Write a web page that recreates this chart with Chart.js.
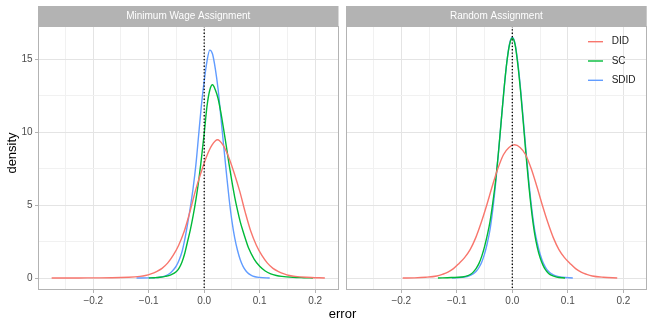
<!DOCTYPE html>
<html>
<head>
<meta charset="utf-8">
<script src="https://cdn.jsdelivr.net/npm/chart.js@4.4.1/dist/chart.umd.min.js"></script>
<style>
  body { margin: 0; background: #fff; }
  #wrap { position: relative; width: 654px; height: 327px; font-family: "Liberation Sans", Arial, sans-serif; }
  #c1 { position: absolute; left: 0; top: 0; }
  #c2 { position: absolute; left: 342px; top: 0; }
  #xtitle { position: absolute; left: 38px; width: 609px; top: 306px; line-height: 15px; text-align: center; font-size: 13px; color: #000; }
</style>
</head>
<body>
<div id="wrap">
  <canvas id="c1" width="341" height="327"></canvas>
  <canvas id="c2" width="312" height="327"></canvas>
  <div id="xtitle">error</div>
</div>
<script>
// facets and methods
var panels = ["Minimum Wage Assignment", "Random Assignment"];
var methods = ["DID", "SC", "SDID"];
var yTitle = "density";

// Minimum Wage Assignment: density curves (error, density)
var mwDidX = [-0.275, -0.226, -0.196, -0.166, -0.136, -0.116, -0.106, -0.096, -0.086, -0.076, -0.066, -0.056, -0.046, -0.036, -0.026, -0.016, -0.006, 0.004, 0.014, 0.024, 0.034, 0.044, 0.054, 0.064, 0.074, 0.084, 0.094, 0.104, 0.114, 0.124, 0.134, 0.144, 0.154, 0.164, 0.184, 0.2175];
var mwDidY = [0.0, 0.005, 0.01, 0.015, 0.05, 0.11, 0.17, 0.28, 0.44, 0.66, 1.02, 1.55, 2.25, 3.2, 4.5, 5.95, 7.2, 8.3, 9.1, 9.47, 9.1, 8.3, 7.2, 5.95, 4.5, 3.2, 2.25, 1.55, 1.02, 0.66, 0.44, 0.28, 0.17, 0.11, 0.05, 0.0];
var mwScX = [-0.10, -0.09, -0.08, -0.07, -0.06, -0.05, -0.045, -0.04, -0.035, -0.03, -0.025, -0.02, -0.015, -0.01, -0.005, 0.0, 0.005, 0.01, 0.015, 0.02, 0.025, 0.03, 0.035, 0.04, 0.045, 0.05, 0.055, 0.06, 0.065, 0.07, 0.075, 0.08, 0.09, 0.10, 0.11, 0.12, 0.13, 0.14, 0.16, 0.18, 0.196];
var mwScY = [0.0, 0.02, 0.05, 0.11, 0.22, 0.45, 0.7, 1.1, 1.7, 2.5, 3.3, 4.25, 5.35, 6.65, 8.2, 9.9, 11.76, 12.87, 13.24, 12.9, 12.3, 11.35, 10.2, 9.0, 7.75, 6.6, 5.55, 4.65, 3.85, 3.2, 2.6, 2.05, 1.3, 0.8, 0.48, 0.28, 0.17, 0.11, 0.05, 0.02, 0.0];
var mwSdidX = [-0.122, -0.10, -0.09, -0.08, -0.07, -0.065, -0.06, -0.055, -0.05, -0.045, -0.04, -0.035, -0.03, -0.025, -0.02, -0.015, -0.01, -0.005, 0.0, 0.005, 0.01, 0.015, 0.02, 0.025, 0.03, 0.035, 0.04, 0.045, 0.05, 0.055, 0.06, 0.065, 0.07, 0.075, 0.08, 0.085, 0.09, 0.10, 0.118];
var mwSdidY = [0.0, 0.01, 0.02, 0.05, 0.14, 0.24, 0.38, 0.58, 0.85, 1.25, 1.8, 2.65, 3.7, 4.85, 6.15, 7.75, 9.8, 11.85, 13.5, 14.85, 15.62, 15.35, 14.35, 12.95, 11.05, 9.1, 7.2, 5.4, 3.9, 2.75, 1.9, 1.25, 0.8, 0.5, 0.3, 0.18, 0.1, 0.04, 0.0];

// Random Assignment
var raDidX = [-0.1975, -0.176, -0.156, -0.136, -0.126, -0.116, -0.106, -0.096, -0.086, -0.076, -0.066, -0.056, -0.046, -0.036, -0.026, -0.016, -0.006, 0.004, 0.014, 0.024, 0.034, 0.044, 0.054, 0.064, 0.074, 0.084, 0.094, 0.104, 0.114, 0.124, 0.134, 0.144, 0.164, 0.189];
var raDidY = [0.0, 0.01, 0.05, 0.14, 0.25, 0.4, 0.64, 1.0, 1.4, 1.95, 2.75, 3.8, 5.0, 6.3, 7.5, 8.45, 8.95, 9.13, 8.95, 8.45, 7.5, 6.3, 5.0, 3.8, 2.75, 1.95, 1.4, 1.0, 0.64, 0.4, 0.25, 0.14, 0.05, 0.0];
var raScX = [-0.134, -0.11, -0.09, -0.08, -0.075, -0.07, -0.065, -0.06, -0.055, -0.05, -0.045, -0.04, -0.035, -0.03, -0.025, -0.02, -0.015, -0.01, -0.005, 0.0, 0.005, 0.01, 0.015, 0.02, 0.025, 0.03, 0.035, 0.04, 0.045, 0.05, 0.055, 0.06, 0.065, 0.07, 0.08, 0.095];
var raScY = [0.0, 0.03, 0.07, 0.16, 0.26, 0.42, 0.66, 1.0, 1.5, 2.15, 2.95, 3.9, 5.2, 6.7, 8.6, 10.75, 12.9, 14.75, 16.0, 16.45, 16.0, 14.6, 12.75, 10.55, 8.3, 6.25, 4.5, 3.1, 2.1, 1.4, 0.9, 0.55, 0.33, 0.19, 0.06, 0.0];
var raSdidX = [-0.109, -0.09, -0.08, -0.07, -0.065, -0.06, -0.055, -0.05, -0.045, -0.04, -0.035, -0.03, -0.025, -0.02, -0.015, -0.01, -0.005, 0.0, 0.005, 0.01, 0.015, 0.02, 0.025, 0.03, 0.035, 0.04, 0.045, 0.05, 0.055, 0.06, 0.065, 0.07, 0.08, 0.09, 0.109];
var raSdidY = [0.0, 0.05, 0.12, 0.3, 0.46, 0.72, 1.1, 1.65, 2.4, 3.35, 4.75, 6.5, 8.55, 10.75, 12.9, 14.75, 16.05, 16.5, 16.05, 14.75, 12.9, 10.75, 8.55, 6.5, 4.75, 3.35, 2.4, 1.65, 1.1, 0.72, 0.46, 0.3, 0.12, 0.05, 0.0];

// reference line
var zeroLine = 0;

var colors = ["#F8766D", "#00BA38", "#619CFF"];
var grey70 = "#B3B3B3";

Chart.defaults.font.family = '"Liberation Sans", Arial, sans-serif';
Chart.defaults.animation = false;

function pts(xs, ys) {
  return xs.map(function (x, i) { return { x: x, y: ys[i] }; });
}

function ds(label, xs, ys, i) {
  return {
    label: label,
    data: pts(xs, ys),
    showLine: true,
    borderColor: colors[i],
    backgroundColor: colors[i],
    borderWidth: 1.4,
    pointRadius: 0,
    cubicInterpolationMode: "monotone",
  };
}

function isMajor(v, step) {
  var r = v / step;
  return Math.abs(r - Math.round(r)) < 1e-6;
}

function fmtX(v) {
  if (!isMajor(v, 0.1)) return "";
  var s = Math.abs(v).toFixed(1);
  return v < -1e-9 ? "\u2212" + s : s;
}

var panelPlugin = {
  id: "panel",
  beforeDraw: function (chart) {
    var a = chart.chartArea, ctx = chart.ctx;
    ctx.save();
    ctx.fillStyle = grey70;
    ctx.fillRect(a.left, a.top - 20, a.right - a.left, 20);
    ctx.restore();
  },
  afterDatasetsDraw: function (chart) {
    var a = chart.chartArea, ctx = chart.ctx;
    var x = chart.scales.x.getPixelForValue(zeroLine);
    ctx.save();
    ctx.strokeStyle = "#000";
    ctx.lineWidth = 1.3;
    ctx.setLineDash([1.3, 2.0]);
    ctx.beginPath();
    ctx.moveTo(x, a.top);
    ctx.lineTo(x, a.bottom);
    ctx.stroke();
    ctx.restore();
  },
  afterDraw: function (chart) {
    var a = chart.chartArea, ctx = chart.ctx;
    ctx.save();
    ctx.strokeStyle = grey70;
    ctx.lineWidth = 1;
    ctx.strokeRect(Math.round(a.left) + 0.5, Math.round(a.top) + 0.5, Math.round(a.right - a.left) - 1, Math.round(a.bottom - a.top) - 1);
    ctx.restore();
  },
};

// y title centred on panel + strip, like ggplot
var yTitlePlugin = {
  id: "yTitle",
  afterDraw: function (chart) {
    var a = chart.chartArea, ctx = chart.ctx;
    ctx.save();
    ctx.translate(12.5, (a.top + a.bottom) / 2 - 5);
    ctx.rotate(-Math.PI / 2);
    ctx.font = '13px "Liberation Sans", Arial, sans-serif';
    ctx.fillStyle = "#000";
    ctx.textAlign = "center";
    ctx.textBaseline = "middle";
    ctx.fillText(yTitle, 0, 0);
    ctx.restore();
  },
};

var legendPlugin = {
  id: "insideLegend",
  afterDraw: function (chart) {
    var a = chart.chartArea, ctx = chart.ctx;
    ctx.save();
    ctx.font = '10px "Liberation Sans", Arial, sans-serif';
    ctx.textBaseline = "middle";
    ctx.textAlign = "left";
    chart.data.datasets.forEach(function (d, i) {
      var y = a.top + 15.7 + i * 19.3;
      ctx.strokeStyle = d.borderColor;
      ctx.lineWidth = 1.4;
      ctx.beginPath();
      ctx.moveTo(a.right - 58.7, y);
      ctx.lineTo(a.right - 43.7, y);
      ctx.stroke();
      ctx.fillStyle = "#1a1a1a";
      ctx.fillText(d.label, a.right - 35, y);
    });
    ctx.restore();
  },
};

function makeOptions(title, left) {
  return {
    responsive: false,
    devicePixelRatio: 1,
    layout: { padding: left ? { left: 0, right: 2.5, top: 6, bottom: 0 } : { left: 4, right: 7.3, top: 6, bottom: 0 } },
    plugins: {
      legend: { display: false },
      tooltip: { enabled: false },
      title: {
        display: true,
        text: title,
        fullSize: false,
        color: "#ffffff",
        font: { size: 10, weight: "normal" },
        padding: { top: 4, bottom: 4 },
      },
    },
    scales: {
      x: {
        type: "linear",
        min: -0.2996,
        max: 0.2421,
        afterFit: function (s) { s.height = 37; },
        border: { display: false },
        grid: {
          color: function (c) { return isMajor(c.tick.value, 0.1) ? "#E4E4E4" : "#F1F1F1"; },
          tickColor: function (c) { return isMajor(c.tick.value, 0.1) ? grey70 : "rgba(0,0,0,0)"; },
          tickLength: 3,
        },
        ticks: {
          stepSize: 0.05,
          includeBounds: false,
          autoSkip: false,
          maxRotation: 0,
          padding: 2,
          color: "#4D4D4D",
          font: { size: 10 },
          callback: function (v) { return fmtX(v); },
        },
      },
      y: {
        min: -0.822,
        max: 17.27,
        afterFit: function (s) { s.width = left ? 38 : 0; },
        border: { display: false },
        grid: {
          color: function (c) { return isMajor(c.tick.value, 5) ? "#E4E4E4" : "#F1F1F1"; },
          tickColor: function (c) { return isMajor(c.tick.value, 5) ? grey70 : "rgba(0,0,0,0)"; },
          tickLength: 3,
          drawTicks: left,
        },
        ticks: {
          display: left,
          stepSize: 2.5,
          includeBounds: false,
          padding: 2.5,
          color: "#4D4D4D",
          font: { size: 10 },
          callback: function (v) { return isMajor(v, 5) ? String(v) : ""; },
        },
      },
    },
  };
}

new Chart(document.getElementById("c1"), {
  type: "scatter",
  data: {
    datasets: [
      ds(methods[0], mwDidX, mwDidY, 0),
      ds(methods[1], mwScX, mwScY, 1),
      ds(methods[2], mwSdidX, mwSdidY, 2),
    ],
  },
  options: makeOptions(panels[0], true),
  plugins: [panelPlugin, yTitlePlugin],
});

new Chart(document.getElementById("c2"), {
  type: "scatter",
  data: {
    datasets: [
      ds(methods[0], raDidX, raDidY, 0),
      ds(methods[1], raScX, raScY, 1),
      ds(methods[2], raSdidX, raSdidY, 2),
    ],
  },
  options: makeOptions(panels[1], false),
  plugins: [panelPlugin, legendPlugin],
});
</script>
</body>
</html>
